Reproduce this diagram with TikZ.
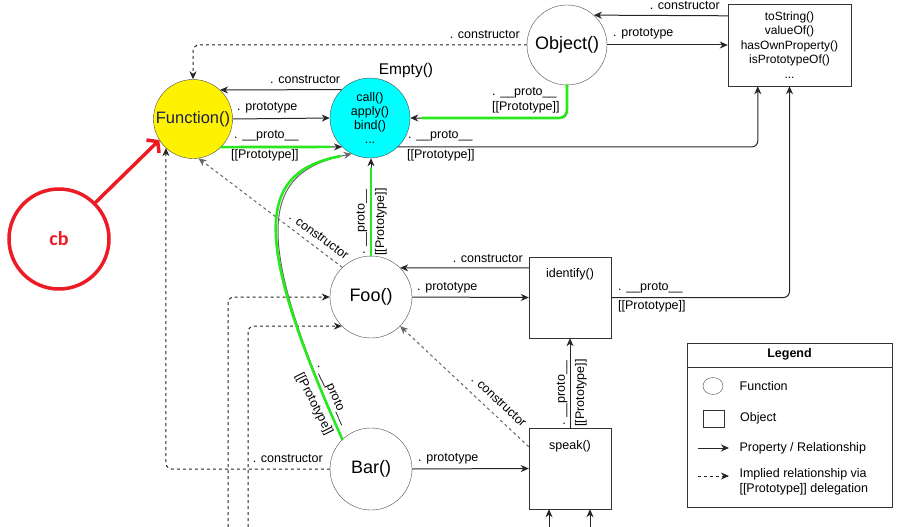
\documentclass[tikz,border=0pt]{standalone}
\usepackage{fontspec}
\setmainfont{Liberation Sans}
\newfontfamily\notefont{Carlito}
\usepackage{xcolor}
\usepackage{tikz}
\usetikzlibrary{arrows.meta,positioning,shapes.geometric}

\definecolor{fnyellow}{RGB}{255,242,0}
\definecolor{emcyan}{RGB}{0,255,255}
\definecolor{hlgreen}{RGB}{40,232,30}
\definecolor{notered}{RGB}{237,28,36}
\definecolor{fntext}{RGB}{30,30,80}

\begin{document}
\begin{tikzpicture}[x=1pt,y=-1pt,every node/.style={font=\fontsize{12.5}{14.5}\selectfont},
  fnnode/.style={draw=black!70,circle,minimum size=82pt,inner sep=0pt,font=\fontsize{18}{20}\selectfont},
  objbox/.style={draw=black!80,rectangle,inner sep=0pt},
  rel/.style={draw=black!85,line width=1pt,-{Stealth[length=8pt,width=7pt,inset=2.5pt]}},
  impl/.style={rel,dash pattern=on 3pt off 3pt},
  implgray/.style={impl,draw=black!60},
  lbl/.style={inner sep=0pt},
  hl/.style={draw=hlgreen,line width=2.6pt,line cap=round}]
\useasboundingbox (0,0) rectangle (918,527);

% functions and objects
\node[fnnode,fill=fnyellow,minimum size=79pt,font=\fontsize{16.5}{18}\selectfont\color{fntext}] (fun) at (193,119) {Function()};
\node[fnnode,fill=emcyan,minimum size=80pt,align=center,font=\fontsize{12.5}{14}\selectfont] (empty) at (370,118) {call()\\apply()\\bind()\\...};
\node[font=\fontsize{15.5}{17}\selectfont] (emptyname) at (406,70) {Empty()};
\node[fnnode,minimum size=80pt] (object) at (567,45) {Object()};
\node[objbox,minimum width=123pt,minimum height=82pt,align=center,font=\fontsize{12}{14.5}\selectfont] (objproto) at (789.5,45) {toString()\\valueOf()\\hasOwnProperty()\\isPrototypeOf()\\...};
\node[fnnode] (foo) at (371,297) {Foo()};
\node[objbox,minimum width=82pt,minimum height=81pt,label={[anchor=north,yshift=-8pt]north:identify()}] (ident) at (570,297.5) {};
\node[fnnode] (bar) at (371,469) {Bar()};
\node[objbox,minimum width=82pt,minimum height=81pt,label={[anchor=north,yshift=-9pt]north:speak()}] (speak) at (570,468.5) {};

% loose ends at the bottom
\coordinate (foobot1) at (228,527);
\coordinate (foobot2) at (248,527);
\coordinate (spkin1) at (549,527);
\coordinate (spkin2) at (590,527);

% connectors
\draw[impl,rounded corners=6pt] (object.west) -| (fun.north);
\draw[rel] (empty.135.6) -- (fun.47.2);
\draw[rel] (fun.east) -- (empty.west);
\draw[rel] (fun.-45) -- (empty.226.5);
\draw[rel,rounded corners=6pt] (object.south) |- (empty.east);
\draw[rel,rounded corners=6pt] (empty.-46.5) -| ([xshift=30pt]objproto.south west);
\draw[rel] (object.east) -- (objproto.west |- object.east);
\draw[rel] ([yshift=-12pt]objproto.north west) -- (object.48.6);
\draw[rel] (foo.north) -- (foo.north |- empty.south);
\draw[implgray] (foo.134) -- (fun.-82);
\draw[rel,draw=black!60] (bar.134) .. controls (250,230) and (262,172) .. (empty.-117);
\draw[rel] ([yshift=-11pt]ident.north west) -- (foo.45);
\draw[rel] (foo.east) -- (ident.west);
\draw[rel,rounded corners=6pt] (ident.east) -| (objproto.south);
\draw[rel] (speak.north) -- (ident.south);
\draw[implgray] ([yshift=-19pt]speak.north west) -- (foo.-45);
\draw[rel] (bar.east) -- (speak.west);
\draw[impl,rounded corners=6pt] (bar.west) -| (fun.-133);
\draw[impl,rounded corners=6pt] (foobot1) |- (foo.west);
\draw[impl,rounded corners=6pt] (foobot2) |- (foo.-135);
\draw[rel] (spkin1) -- (spkin1 |- speak.south);
\draw[rel] (spkin2) -- (spkin2 |- speak.south);

% edge labels
\node[lbl,anchor=east] at (520,35) {. constructor};
\node[lbl,anchor=west] at (270,80) {. constructor};
\node[lbl,anchor=west] at (237,108) {. prototype};
\node[lbl,anchor=west] at (234,136) {. \_\_proto\_\_};
\node[lbl,anchor=west] at (231,155) {[[Prototype]]};
\node[lbl,anchor=west] at (492,93) {. \_\_proto\_\_};
\node[lbl,anchor=west] at (492,107) {[[Prototype]]};
\node[lbl,anchor=west] at (408,136) {. \_\_proto\_\_};
\node[lbl,anchor=west] at (407,155) {[[Prototype]]};
\node[lbl,anchor=west] at (613,34) {. prototype};
\node[lbl,anchor=east] at (720,6) {. constructor};
\node[lbl,rotate=90] at (362,222) {. \_\_proto\_\_};
\node[lbl,rotate=90] at (381,222) {[[Prototype]]};
\node[lbl,rotate=-36] at (319,236) {. constructor};
\node[lbl,rotate=-66] at (333,394) {. \_\_proto\_\_};
\node[lbl,rotate=-63] at (314,404) {[[Prototype]]};
\node[lbl,anchor=east] at (523,259) {. constructor};
\node[lbl,anchor=west] at (417,288) {. prototype};
\node[lbl,anchor=west] at (618,288) {. \_\_proto\_\_};
\node[lbl,anchor=west] at (618,306) {[[Prototype]]};
\node[lbl,rotate=90] at (562,393) {. \_\_proto\_\_};
\node[lbl,rotate=90] at (581,393) {[[Prototype]]};
\node[lbl,rotate=-43] at (499,401) {. constructor};
\node[lbl,anchor=west] at (418,459) {. prototype};
\node[lbl,anchor=east] at (323,459) {. constructor};

% green marks
\draw[hl,shorten >=12pt] (fun.-45) -- (empty.226.5);
\draw[hl,rounded corners=8pt,shorten >=12pt] (object.south) |- (empty.east);
\draw[hl,shorten >=10pt] (foo.north) -- (foo.north |- empty.south);
\draw[hl,shorten >=12pt] (bar.134) .. controls (248,230) and (260,172) .. (empty.-117);

% legend
\node[objbox,minimum width=205pt,minimum height=164pt] (legend) at (789.5,425) {};
\draw[black!80] ([yshift=-24pt]legend.north west) -- ([yshift=-24pt]legend.north east);
\node[font=\bfseries\fontsize{12.5}{14}\selectfont] (legendtitle) at (789.5,354) {Legend};
\node[draw=black!70,ellipse,minimum width=20pt,minimum height=17pt,inner sep=0pt] (lgfn) at (713,386) {};
\node[right=13pt of lgfn] (lgfntxt) {Function};
\node[objbox,minimum width=21pt,minimum height=17pt] (lgobj) at (713.5,418.5) {};
\node[right=12.5pt of lgobj] (lgobjtxt) {Object};
\coordinate (lgrel1) at (698,448);
\coordinate (lgrel2) at (729,448);
\draw[rel] (lgrel1) -- (lgrel2);
\node[right=7pt of lgrel2] (lgreltxt) {Property / Relationship};
\coordinate (lgimp1) at (698,476);
\coordinate (lgimp2) at (729,476);
\draw[impl] (lgimp1) -- (lgimp2);
\node[right=7pt of lgimp2,yshift=-6pt,align=left] (lgimptxt) {Implied relationship via\\{}[[Prototype]] delegation};

% note
\node[draw=notered,line width=3.5pt,circle,minimum size=100pt,text=notered,font=\notefont\bfseries\fontsize{20}{22}\selectfont] (cb) at (59,239) {cb};
\draw[notered,line width=3.5pt,line cap=round,-{Straight Barb[length=7pt,width=18pt]}] (cb.45) -- (fun.212);
\end{tikzpicture}
\end{document}
